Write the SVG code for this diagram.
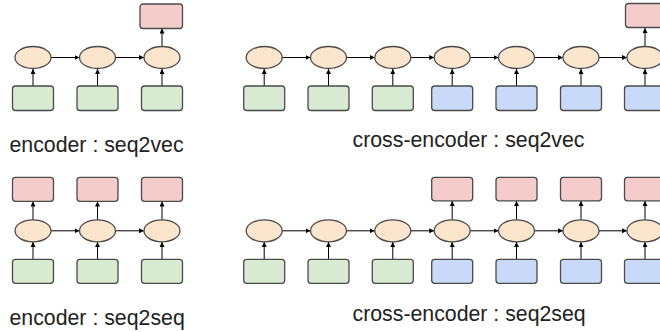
<svg xmlns="http://www.w3.org/2000/svg" width="660" height="332" viewBox="0 0 660 332">
<defs>
<style>
.box{stroke:#4a4a4a;stroke-width:1.3}
.in{fill:#d9ead3}
.x{fill:#c9daf8}
.out{fill:#f4cccc}
.h{fill:#fce5cd;stroke:#4a4a4a;stroke-width:1.3}
.c line{stroke:#000;stroke-width:1;marker-end:url(#a)}
text{font-family:"Liberation Sans",Arial,sans-serif;font-size:21.3px;fill:#222}
</style>
<marker id="a" markerUnits="userSpaceOnUse" markerWidth="6" markerHeight="5" refX="5" refY="2.5" orient="auto">
<path d="M0,0 L5,2.5 L0,5 Z" fill="#000"/>
</marker>
</defs>
<rect width="660" height="332" fill="#fff"/>

<!-- connectors -->
<g class="c" id="connectors">
<!-- top-left -->
<line x1="33" y1="86" x2="33" y2="69"/>
<line x1="97.5" y1="86" x2="97.5" y2="69"/>
<line x1="162" y1="86" x2="162" y2="69"/>
<line x1="51" y1="57.5" x2="79.5" y2="57.5"/>
<line x1="115.5" y1="57.5" x2="144" y2="57.5"/>
<line x1="162" y1="46.5" x2="162" y2="28.5"/>
<!-- top-right -->
<line x1="264.2" y1="86" x2="264.2" y2="69"/>
<line x1="328.5" y1="86" x2="328.5" y2="69"/>
<line x1="392.8" y1="86" x2="392.8" y2="69"/>
<line x1="452.2" y1="86" x2="452.2" y2="69"/>
<line x1="516.5" y1="86" x2="516.5" y2="69"/>
<line x1="581" y1="86" x2="581" y2="69"/>
<line x1="645" y1="86" x2="645" y2="69"/>
<line x1="282.2" y1="57.5" x2="310.5" y2="57.5"/>
<line x1="346.5" y1="57.5" x2="374.8" y2="57.5"/>
<line x1="410.8" y1="57.5" x2="434.2" y2="57.5"/>
<line x1="470.2" y1="57.5" x2="498.5" y2="57.5"/>
<line x1="534.5" y1="57.5" x2="563" y2="57.5"/>
<line x1="599" y1="57.5" x2="627" y2="57.5"/>
<line x1="645" y1="46.5" x2="645" y2="28"/>
<!-- bottom-left -->
<line x1="33" y1="259.3" x2="33" y2="242"/>
<line x1="97.5" y1="259.3" x2="97.5" y2="242"/>
<line x1="162" y1="259.3" x2="162" y2="242"/>
<line x1="51" y1="230.8" x2="79.5" y2="230.8"/>
<line x1="115.5" y1="230.8" x2="144" y2="230.8"/>
<line x1="33" y1="219.8" x2="33" y2="201.5"/>
<line x1="97.5" y1="219.8" x2="97.5" y2="201.5"/>
<line x1="162" y1="219.8" x2="162" y2="201.5"/>
<!-- bottom-right -->
<line x1="264.2" y1="259.3" x2="264.2" y2="242"/>
<line x1="328.5" y1="259.3" x2="328.5" y2="242"/>
<line x1="392.8" y1="259.3" x2="392.8" y2="242"/>
<line x1="452.2" y1="259.3" x2="452.2" y2="242"/>
<line x1="516.5" y1="259.3" x2="516.5" y2="242"/>
<line x1="581" y1="259.3" x2="581" y2="242"/>
<line x1="645" y1="259.3" x2="645" y2="242"/>
<line x1="282.2" y1="230.8" x2="310.5" y2="230.8"/>
<line x1="346.5" y1="230.8" x2="374.8" y2="230.8"/>
<line x1="410.8" y1="230.8" x2="434.2" y2="230.8"/>
<line x1="470.2" y1="230.8" x2="498.5" y2="230.8"/>
<line x1="534.5" y1="230.8" x2="563" y2="230.8"/>
<line x1="599" y1="230.8" x2="627" y2="230.8"/>
<line x1="452.2" y1="219.8" x2="452.2" y2="201"/>
<line x1="516.5" y1="219.8" x2="516.5" y2="201"/>
<line x1="581" y1="219.8" x2="581" y2="201"/>
<line x1="645" y1="219.8" x2="645" y2="201"/>
</g>

<!-- top-left: encoder seq2vec -->
<g id="tl-in1"><rect class="box in" x="12.5" y="86" width="41" height="24.5" rx="3"/></g>
<g id="tl-in2"><rect class="box in" x="77" y="86" width="41" height="24.5" rx="3"/></g>
<g id="tl-in3"><rect class="box in" x="141.5" y="86" width="41" height="24.5" rx="3"/></g>
<g id="tl-h1"><ellipse class="h" cx="33" cy="57.5" rx="18" ry="11"/></g>
<g id="tl-h2"><ellipse class="h" cx="97.5" cy="57.5" rx="18" ry="11"/></g>
<g id="tl-h3"><ellipse class="h" cx="162" cy="57.5" rx="18" ry="11"/></g>
<g id="tl-out"><rect class="box out" x="140" y="4" width="42.5" height="24.5" rx="3"/></g>
<text x="9.5" y="152.3">encoder : seq2vec</text>

<!-- top-right: cross-encoder seq2vec -->
<g id="tr-in1"><rect class="box in" x="243.7" y="86" width="41" height="24.5" rx="3"/></g>
<g id="tr-in2"><rect class="box in" x="308" y="86" width="41" height="24.5" rx="3"/></g>
<g id="tr-in3"><rect class="box in" x="372.3" y="86" width="41" height="24.5" rx="3"/></g>
<g id="tr-in4"><rect class="box x" x="431.7" y="86" width="41" height="24.5" rx="3"/></g>
<g id="tr-in5"><rect class="box x" x="496" y="86" width="41" height="24.5" rx="3"/></g>
<g id="tr-in6"><rect class="box x" x="560.5" y="86" width="41" height="24.5" rx="3"/></g>
<g id="tr-in7"><rect class="box x" x="624.5" y="86" width="41" height="24.5" rx="3"/></g>
<g id="tr-h1"><ellipse class="h" cx="264.2" cy="57.5" rx="18" ry="11"/></g>
<g id="tr-h2"><ellipse class="h" cx="328.5" cy="57.5" rx="18" ry="11"/></g>
<g id="tr-h3"><ellipse class="h" cx="392.8" cy="57.5" rx="18" ry="11"/></g>
<g id="tr-h4"><ellipse class="h" cx="452.2" cy="57.5" rx="18" ry="11"/></g>
<g id="tr-h5"><ellipse class="h" cx="516.5" cy="57.5" rx="18" ry="11"/></g>
<g id="tr-h6"><ellipse class="h" cx="581" cy="57.5" rx="18" ry="11"/></g>
<g id="tr-h7"><ellipse class="h" cx="645" cy="57.5" rx="18" ry="11"/></g>
<g id="tr-out"><rect class="box out" x="625.5" y="3.5" width="41" height="24" rx="3"/></g>
<text x="352.5" y="147.3">cross-encoder : seq2vec</text>

<!-- bottom-left: encoder seq2seq -->
<g id="bl-in1"><rect class="box in" x="12.5" y="259.3" width="41" height="24" rx="3"/></g>
<g id="bl-in2"><rect class="box in" x="77" y="259.3" width="41" height="24" rx="3"/></g>
<g id="bl-in3"><rect class="box in" x="141.5" y="259.3" width="41" height="24" rx="3"/></g>
<g id="bl-h1"><ellipse class="h" cx="33" cy="230.8" rx="18" ry="11"/></g>
<g id="bl-h2"><ellipse class="h" cx="97.5" cy="230.8" rx="18" ry="11"/></g>
<g id="bl-h3"><ellipse class="h" cx="162" cy="230.8" rx="18" ry="11"/></g>
<g id="bl-out1"><rect class="box out" x="12.5" y="177.3" width="41" height="24" rx="3"/></g>
<g id="bl-out2"><rect class="box out" x="77" y="177.3" width="41" height="24" rx="3"/></g>
<g id="bl-out3"><rect class="box out" x="141.5" y="177.3" width="41" height="24" rx="3"/></g>
<text x="9.5" y="325">encoder : seq2seq</text>

<!-- bottom-right: cross-encoder seq2seq -->
<g id="br-in1"><rect class="box in" x="243.7" y="259.3" width="41" height="24" rx="3"/></g>
<g id="br-in2"><rect class="box in" x="308" y="259.3" width="41" height="24" rx="3"/></g>
<g id="br-in3"><rect class="box in" x="372.3" y="259.3" width="41" height="24" rx="3"/></g>
<g id="br-in4"><rect class="box x" x="431.7" y="259.3" width="41" height="24" rx="3"/></g>
<g id="br-in5"><rect class="box x" x="496" y="259.3" width="41" height="24" rx="3"/></g>
<g id="br-in6"><rect class="box x" x="560.5" y="259.3" width="41" height="24" rx="3"/></g>
<g id="br-in7"><rect class="box x" x="624.5" y="259.3" width="41" height="24" rx="3"/></g>
<g id="br-h1"><ellipse class="h" cx="264.2" cy="230.8" rx="18" ry="11"/></g>
<g id="br-h2"><ellipse class="h" cx="328.5" cy="230.8" rx="18" ry="11"/></g>
<g id="br-h3"><ellipse class="h" cx="392.8" cy="230.8" rx="18" ry="11"/></g>
<g id="br-h4"><ellipse class="h" cx="452.2" cy="230.8" rx="18" ry="11"/></g>
<g id="br-h5"><ellipse class="h" cx="516.5" cy="230.8" rx="18" ry="11"/></g>
<g id="br-h6"><ellipse class="h" cx="581" cy="230.8" rx="18" ry="11"/></g>
<g id="br-h7"><ellipse class="h" cx="645" cy="230.8" rx="18" ry="11"/></g>
<g id="br-out4"><rect class="box out" x="431.7" y="177.3" width="41" height="23.5" rx="3"/></g>
<g id="br-out5"><rect class="box out" x="496" y="177.3" width="41" height="23.5" rx="3"/></g>
<g id="br-out6"><rect class="box out" x="560.5" y="177.3" width="41" height="23.5" rx="3"/></g>
<g id="br-out7"><rect class="box out" x="624.5" y="177.3" width="41" height="23.5" rx="3"/></g>
<text x="352.5" y="321">cross-encoder : seq2seq</text>
</svg>
